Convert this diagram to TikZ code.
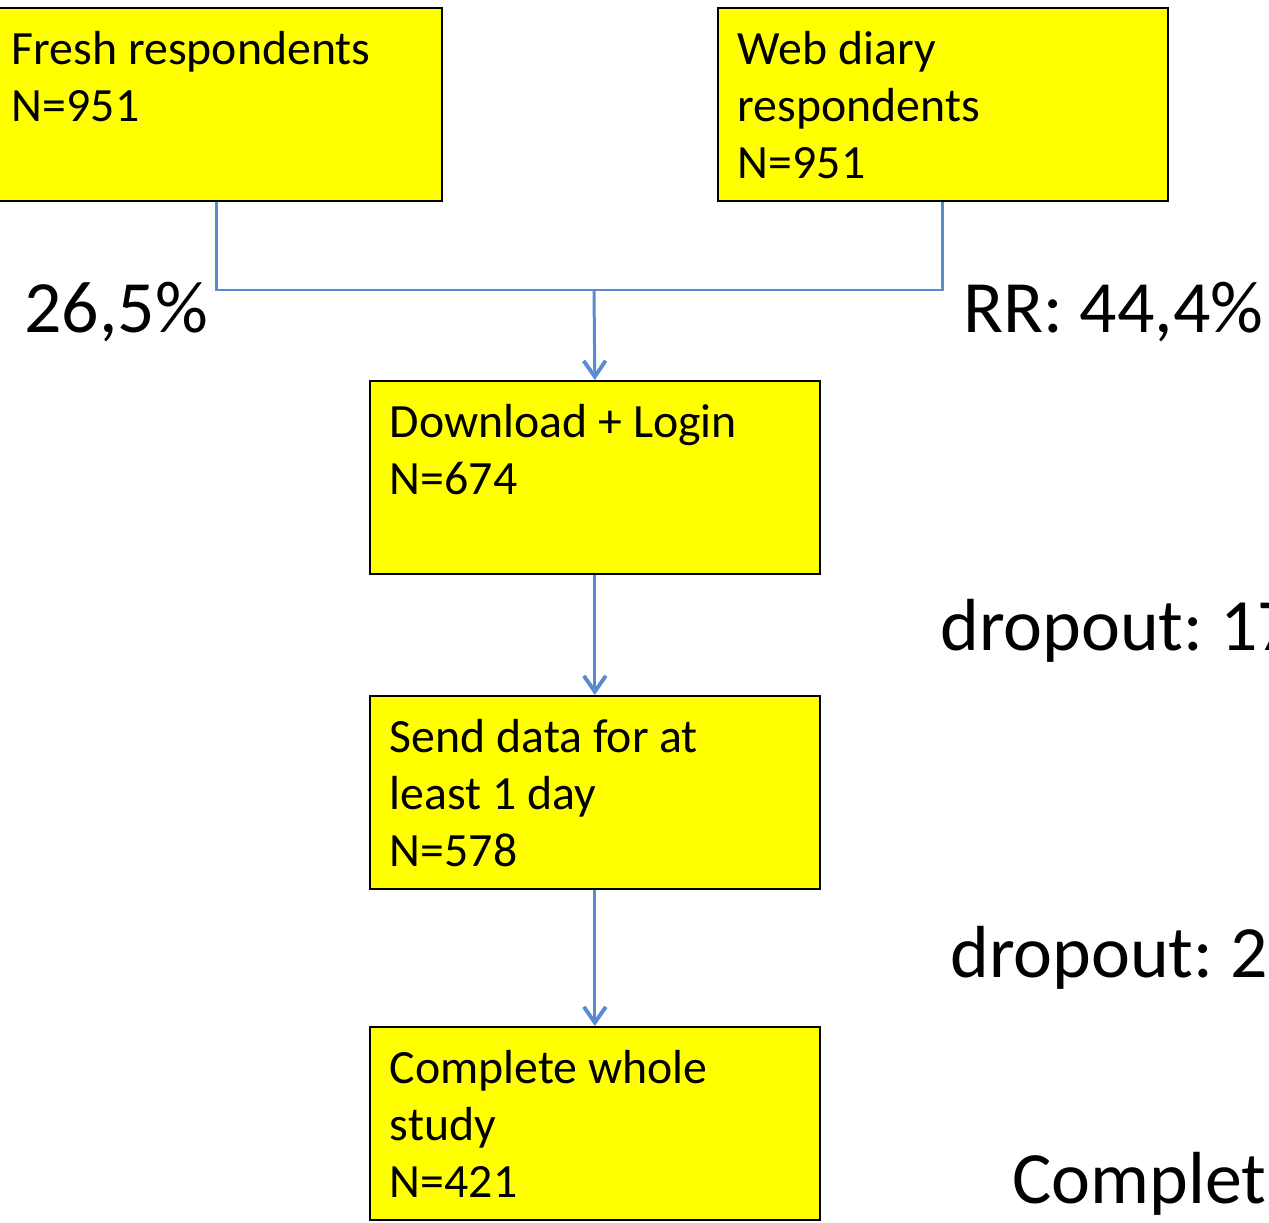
\documentclass[tikz,border=0pt]{standalone}
\usepackage{fontspec}
\setmainfont{Carlito}
\usetikzlibrary{arrows.meta, positioning}
\definecolor{BoxYellow}{HTML}{FFFF00}
\definecolor{LinkBlue}{HTML}{5A8AD2}
\frenchspacing
\newcommand{\boxtext}[1]{\parbox[c][3.86cm][t]{8.2cm}{\raggedright\fontsize{27.2pt}{32.4pt}\selectfont\rule{0pt}{1.14cm}#1}}
\tikzset{
  % Box styles
  flowbox/.style={rectangle, draw=black, line width=1pt, fill=BoxYellow, inner sep=0pt, minimum width=9cm, minimum height=3.86cm, anchor=north west},
  ratelabel/.style={inner sep=0pt, anchor=base west, font=\fontsize{42pt}{50pt}\selectfont},
  % Arrow styles
  link/.style={LinkBlue, line width=1.7pt},
  flow/.style={link, -{Straight Barb[length=9pt, width=12.5pt, line width=2.2pt]}}
}
\begin{document}
\begin{tikzpicture}[x=0.02cm, y=-0.02cm]
  \clip (0,0) rectangle (1269,1223);
  % Stages
  \node[flowbox] (fresh) at (-9,7) {\boxtext{Fresh respondents\\N=951}};
  \node[flowbox] (diary) at (717,7) {\boxtext{Web diary\\respondents\\N=951}};
  \node[flowbox] (login) at (369,380) {\boxtext{Download + Login\\N=674}};
  \node[flowbox] (senddata) at (369,695) {\boxtext{Send data for at\\least 1 day\\N=578}};
  \node[flowbox] (complete) at (369,1026) {\boxtext{Complete whole\\study\\N=421}};

  % Rates
  \node[ratelabel] (rrfresh) at (24,333) {26,5\%};
  \node[ratelabel] (rrdiary) at (963,333) {RR: 44,4\%};
  \node[ratelabel] (drop1) at (940,650) {dropout: 17};
  \node[ratelabel] (drop2) at (950,977) {dropout: 2};
  \node[ratelabel] (compl) at (1012,1203) {Complet};

  % Connectors
  \coordinate (join) at (594,290);
  \draw[link] (fresh.south) |- (join) -| (diary.south);
  \draw[flow] (join) -- (login.north);
  \draw[flow] (login.south) -- (senddata.north);
  \draw[flow] (senddata.south) -- (complete.north);
\end{tikzpicture}
\end{document}
